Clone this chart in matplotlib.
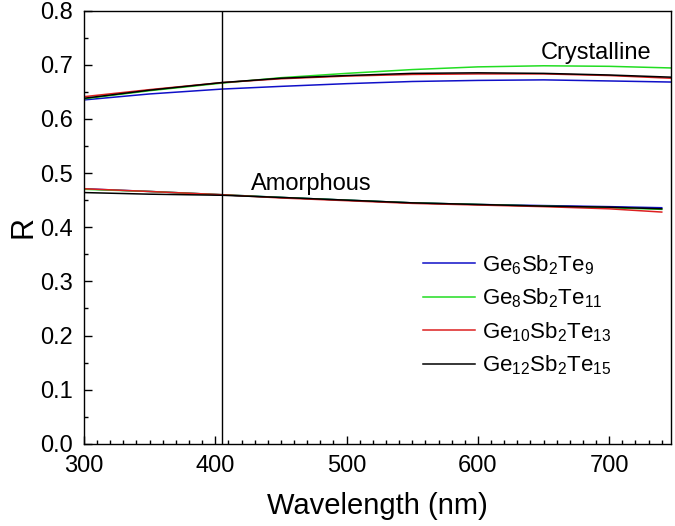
import matplotlib
matplotlib.use("Agg")
import matplotlib.pyplot as plt
from matplotlib.ticker import MultipleLocator

plt.rcParams["font.family"] = ["Liberation Sans", "DejaVu Sans"]
plt.rcParams["mathtext.fontset"] = "custom"
plt.rcParams["mathtext.rm"] = "Liberation Sans"

# reflectance
wl_cryst = [300, 350, 405, 450, 500, 550, 600, 650, 700, 747]
cryst_ge6 = [0.635, 0.646, 0.655, 0.660, 0.665, 0.669, 0.671, 0.672, 0.670, 0.668]
cryst_ge8 = [0.637, 0.652, 0.666, 0.676, 0.684, 0.691, 0.696, 0.698, 0.697, 0.694]
cryst_ge10 = [0.641, 0.654, 0.667, 0.674, 0.679, 0.682, 0.683, 0.683, 0.680, 0.675]
cryst_ge12 = [0.638, 0.653, 0.667, 0.675, 0.680, 0.684, 0.685, 0.684, 0.681, 0.677]

wl_amor = [300, 350, 405, 450, 500, 550, 600, 650, 700, 740]
amor_ge6 = [0.471, 0.466, 0.460, 0.455, 0.450, 0.445, 0.442, 0.440, 0.438, 0.436]
amor_ge8 = [0.470, 0.466, 0.460, 0.455, 0.450, 0.445, 0.442, 0.439, 0.436, 0.433]
amor_ge10 = [0.471, 0.466, 0.460, 0.454, 0.449, 0.444, 0.441, 0.438, 0.434, 0.428]
amor_ge12 = [0.464, 0.461, 0.459, 0.455, 0.450, 0.445, 0.442, 0.439, 0.437, 0.434]

labels = [r"$\mathregular{Ge_6Sb_2Te_9}$", r"$\mathregular{Ge_8Sb_2Te_{11}}$",
          r"$\mathregular{Ge_{10}Sb_2Te_{13}}$", r"$\mathregular{Ge_{12}Sb_2Te_{15}}$"]
colors = ["#1010c8", "#22dd22", "#dd2020", "#000000"]
LASER_NM = 405

fig = plt.figure(figsize=(6.75, 5.26), dpi=100)
ax = fig.add_axes([0.1244, 0.156, 0.8696, 0.824])

cryst = [cryst_ge6, cryst_ge8, cryst_ge10, cryst_ge12]
amor = [amor_ge6, amor_ge8, amor_ge10, amor_ge12]
for c, a, col, lab in zip(cryst, amor, colors, labels):
    ax.plot(wl_cryst, c, color=col, lw=1.1, label=lab)
    ax.plot(wl_amor, a, color=col, lw=1.1)

ax.axvline(LASER_NM, color="black", lw=1.0)

ax.text(690, 0.711, "Crystalline", fontsize=17, ha="center", va="baseline")
ax.text(473, 0.468, "Amorphous", fontsize=17, ha="center", va="baseline")

ax.set_xlim(300, 747)
ax.set_ylim(0, 0.8)
ax.xaxis.set_major_locator(MultipleLocator(100))
ax.xaxis.set_minor_locator(MultipleLocator(10))
ax.yaxis.set_major_locator(MultipleLocator(0.1))
ax.yaxis.set_minor_locator(MultipleLocator(0.05))
ax.yaxis.set_major_formatter(plt.FormatStrFormatter("%.1f"))
ax.tick_params(which="both", direction="in", labelsize=17, width=1, pad=8)
ax.tick_params(which="major", length=6)
ax.tick_params(which="minor", length=3.2)
for s in ax.spines.values():
    s.set_linewidth(1.0)

ax.set_xlabel("Wavelength (nm)", fontsize=21, labelpad=11)
ax.set_ylabel("R", fontsize=22, labelpad=1)

ax.legend(loc="center left", bbox_to_anchor=(0.578, 0.297), frameon=False,
          fontsize=16, borderpad=0, borderaxespad=0, handlelength=2.35,
          handletextpad=0.3, labelspacing=0.45)

fig.savefig("out.png", dpi=100)
